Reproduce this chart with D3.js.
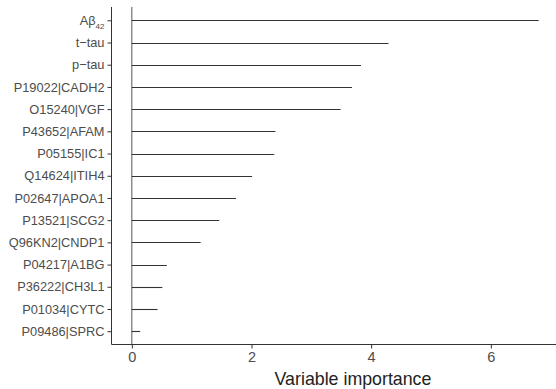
<!DOCTYPE html>
<html>
<head>
<meta charset="utf-8">
<script src="https://cdn.jsdelivr.net/npm/d3@7"></script>
<style>
html,body{margin:0;padding:0;background:#fff;}
svg{display:block;font-family:"Liberation Sans",Arial,Helvetica,sans-serif;}
</style>
</head>
<body>
<svg id="chart" width="556" height="389"></svg>
<script>
const categories = ["Aβ42","t\u2212tau","p\u2212tau","P19022|CADH2","O15240|VGF","P43652|AFAM","P05155|IC1","Q14624|ITIH4","P02647|APOA1","P13521|SCG2","Q96KN2|CNDP1","P04217|A1BG","P36222|CH3L1","P01034|CYTC","P09486|SPRC"];
const importance = [6.80,4.29,3.83,3.68,3.49,2.40,2.38,2.01,1.74,1.46,1.15,0.585,0.51,0.43,0.14];
const xTicks = [0,2,4,6];
const xTitle = "Variable importance";

(function(){
const svg = d3.select("#chart");
const pLeft = 111.5, pRight = 559, pTop = 7, pBottom = 344.5;

const x = d3.scaleLinear().domain([-0.34, 7.14]).range([pLeft, pRight]);
const y = d3.scalePoint().domain(categories).range([pTop, pBottom]).padding(0.6);

// zero reference line
svg.append("line")
  .attr("x1", x(0)).attr("x2", x(0))
  .attr("y1", pTop).attr("y2", pBottom)
  .attr("stroke", "#555").attr("stroke-width", 1);

// bars (lines)
svg.append("g").selectAll("line")
  .data(categories.map((c,i)=>({c, v: importance[i]})))
  .join("line")
  .attr("x1", x(0))
  .attr("x2", d => x(d.v))
  .attr("y1", d => Math.round(y(d.c)) + 0.5)
  .attr("y2", d => Math.round(y(d.c)) + 0.5)
  .attr("stroke", "#333").attr("stroke-width", 1.1);

// y axis
const yAxis = svg.append("g")
  .attr("transform", `translate(${pLeft},0)`)
  .call(d3.axisLeft(y).tickSize(4).tickPadding(3));
yAxis.select(".domain").attr("stroke", "#333").attr("d", `M0,${pTop}V${pBottom}`);
yAxis.selectAll(".tick line").attr("stroke", "#333");
yAxis.selectAll(".tick text")
  .attr("fill", "#4d4d4d")
  .style("font-size", "12.8px")
  .style("font-family", '"Liberation Sans",Arial,sans-serif')
  .each(function(d){
    if (d === "Aβ42") {
      const t = d3.select(this);
      t.text(null);
      t.append("tspan").text("Aβ");
      t.append("tspan").text("42").attr("dy", "0.45em").style("font-size", "8px");
    }
  });

// x axis
const xAxis = svg.append("g")
  .attr("transform", `translate(0,${pBottom})`)
  .call(d3.axisBottom(x).tickValues(xTicks).tickFormat(d3.format("d")).tickSize(4).tickPadding(3));
xAxis.select(".domain").attr("stroke", "#333").attr("d", `M${pLeft},0H${pRight}`);
xAxis.selectAll(".tick line").attr("stroke", "#333");
xAxis.selectAll(".tick text")
  .attr("fill", "#4d4d4d")
  .style("font-size", "14.5px")
  .style("font-family", '"Liberation Sans",Arial,sans-serif');

// x title
svg.append("text")
  .attr("x", 353).attr("y", 385)
  .attr("text-anchor", "middle")
  .attr("fill", "#222")
  .style("font-size", "17.8px")
  .text(xTitle);
})();
</script>
</body>
</html>
